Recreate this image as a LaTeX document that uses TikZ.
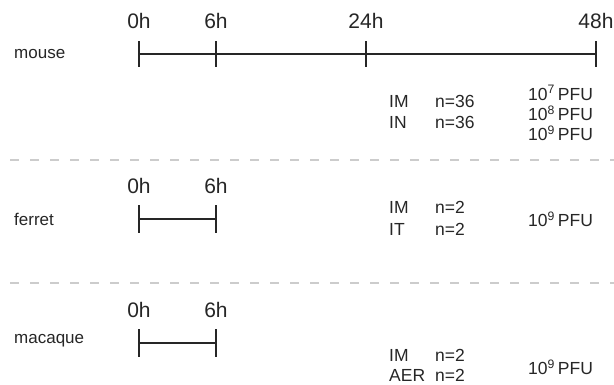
\documentclass[tikz,border=0pt]{standalone}
\usepackage{fontspec}
\setmainfont{Liberation Sans}
\begin{document}
\begin{tikzpicture}[x=1pt,y=-1pt,
  timelbl/.style={font=\fontsize{21}{23}\selectfont, text=black!85, inner sep=0pt},
  species/.style={font=\fontsize{17}{19}\selectfont, text=black!85, anchor=west, inner sep=0pt},
  note/.style={font=\fontsize{17.5}{19}\selectfont, text=black!85, anchor=west, inner sep=0pt},
  tline/.style={line width=2.2pt, draw=black!85},
  tick/.style={line width=2.6pt, draw=black!85},
  sep/.style={line width=1.6pt, draw=black!20, dash pattern=on 9pt off 11pt}
]
\useasboundingbox (0,0) rectangle (614,384);
% ---------- mouse ----------
\node[species] (mouse) at (14,54) {mouse};
\coordinate (m0a) at (139,41); \coordinate (m0b) at (139,67);
\coordinate (m6a) at (216,41); \coordinate (m6b) at (216,67);
\coordinate (m24a) at (366,41); \coordinate (m24b) at (366,67);
\coordinate (m48a) at (596,41); \coordinate (m48b) at (596,67);
\coordinate (m0) at (139,54); \coordinate (m48) at (596,54);
\draw[tline] (m0) -- (m48);
\draw[tick] (m0a) -- (m0b);
\draw[tick] (m6a) -- (m6b);
\draw[tick] (m24a) -- (m24b);
\draw[tick] (m48a) -- (m48b);
\node[timelbl] (ml0) at (139,21) {0h};
\node[timelbl] (ml6) at (216,21) {6h};
\node[timelbl] (ml24) at (366,21) {24h};
\node[timelbl] (ml48) at (596,21) {48h};
\node[note] (mim) at (389,101) {IM};
\node[note] (min) at (389,122) {IN};
\node[note] (mn1) at (435,101) {n=36};
\node[note] (mn2) at (435,122) {n=36};
\node[note] (mp7) at (528,93) {10\textsuperscript{7}\,PFU};
\node[note] (mp8) at (528,113) {10\textsuperscript{8}\,PFU};
\node[note] (mp9) at (528,133) {10\textsuperscript{9}\,PFU};
% separators
\coordinate (s1a) at (10,160); \coordinate (s1b) at (614,160);
\draw[sep] (s1a) -- (s1b);
\coordinate (s2a) at (10,283); \coordinate (s2b) at (614,283);
\draw[sep] (s2a) -- (s2b);
% ---------- ferret ----------
\node[species] (ferret) at (14,219) {ferret};
\coordinate (f0) at (139,219); \coordinate (f6) at (216,219);
\coordinate (f0a) at (139,205); \coordinate (f0b) at (139,233);
\coordinate (f6a) at (216,205); \coordinate (f6b) at (216,233);
\draw[tline] (f0) -- (f6);
\draw[tick] (f0a) -- (f0b);
\draw[tick] (f6a) -- (f6b);
\node[timelbl] (fl0) at (139,186) {0h};
\node[timelbl] (fl6) at (216,186) {6h};
\node[note] (fim) at (389,207) {IM};
\node[note] (fit) at (389,229) {IT};
\node[note] (fn1) at (435,207) {n=2};
\node[note] (fn2) at (435,229) {n=2};
\node[note] (fp9) at (528,219) {10\textsuperscript{9}\,PFU};
% ---------- macaque ----------
\node[species] (macaque) at (14,341) {macaque};
\coordinate (q0) at (139,343); \coordinate (q6) at (216,343);
\coordinate (q0a) at (139,329); \coordinate (q0b) at (139,357);
\coordinate (q6a) at (216,329); \coordinate (q6b) at (216,357);
\draw[tline] (q0) -- (q6);
\draw[tick] (q0a) -- (q0b);
\draw[tick] (q6a) -- (q6b);
\node[timelbl] (ql0) at (139,310) {0h};
\node[timelbl] (ql6) at (216,310) {6h};
\node[note] (qim) at (389,355) {IM};
\node[note] (qaer) at (389,375) {AER};
\node[note] (qn1) at (435,355) {n=2};
\node[note] (qn2) at (435,375) {n=2};
\node[note] (qp9) at (528,367) {10\textsuperscript{9}\,PFU};
\end{tikzpicture}
\end{document}
